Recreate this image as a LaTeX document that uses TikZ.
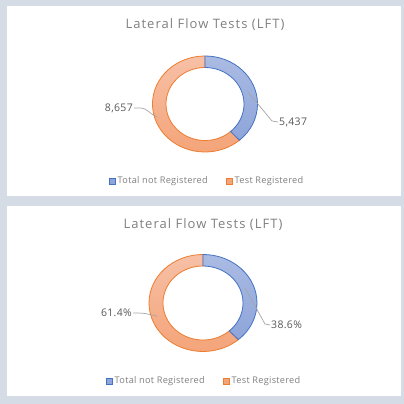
\documentclass[tikz,border=0pt]{standalone}
\usepackage{fontspec}
\setmainfont{Open Sans}
\definecolor{bg}{HTML}{D6DCE6}
\definecolor{bline}{HTML}{4472C4}
\definecolor{btop}{HTML}{AABBE3}
\definecolor{bbot}{HTML}{8EA5DA}
\definecolor{oline}{HTML}{ED7D31}
\definecolor{otop}{HTML}{F7C0A6}
\definecolor{obot}{HTML}{F4A479}
\definecolor{titlec}{HTML}{808080}
\definecolor{labc}{HTML}{595959}
\definecolor{leadc}{HTML}{A6A6A6}
\tikzset{
  panel/.style={fill=white,draw=none},
  ttl/.style={text=titlec,font=\fontsize{13}{15}\selectfont\addfontfeature{LetterSpace=8},inner sep=0pt},
  lab/.style={text=labc,font=\fontsize{10.5}{12}\selectfont\addfontfeature{LetterSpace=3},inner sep=1pt},
  leg/.style={text=titlec,font=\fontsize{9.2}{11}\selectfont\addfontfeature{LetterSpace=3},inner sep=0pt,anchor=west},
  bluesl/.style={draw=bline,line width=0.8pt,top color=btop,bottom color=bbot},
  orsl/.style={draw=oline,line width=0.8pt,top color=otop,bottom color=obot},
  bsq/.style={draw=bline,fill=bbot,line width=0.5pt,minimum size=6pt,inner sep=0pt},
  osq/.style={draw=oline,fill=obot,line width=0.5pt,minimum size=6pt,inner sep=0pt},
  leader/.style={draw=leadc,line width=0.7pt}
}
\begin{document}
\begin{tikzpicture}[x=1pt,y=1pt]
\fill[bg] (0,0) rectangle (404,404);
\useasboundingbox (0,0) rectangle (404,404);
% ---------- top panel ----------
\fill[panel] (7,208) rectangle (401,398);
\node[ttl] (t1) at (205,379) {Lateral Flow Tests (LFT)};
\begin{scope}[shift={(205,300)}]
  \path[orsl] (90:52.5 and 48) arc[start angle=90,end angle=311,x radius=52.5,y radius=48]
     -- (311:39 and 36.5) arc[start angle=311,end angle=90,x radius=39,y radius=36.5] -- cycle;
  \path[bluesl] (90:52.5 and 48) arc[start angle=90,end angle=-49,x radius=52.5,y radius=48]
     -- (-49:39 and 36.5) arc[start angle=-49,end angle=90,x radius=39,y radius=36.5] -- cycle;
  \coordinate (o1) at (-48,-13);
  \coordinate (b1) at (43,12);
\end{scope}
\node[lab,anchor=east] (l1) at (134,296) {8,657};
\node[lab,anchor=west] (r1) at (278,282) {5,437};
\draw[leader] (l1.east) -- ++(6,0) to[out=0,in=160] (o1);
\draw[leader] (b1) -- (272,283) -- (r1.west);
\node[bsq] (bs1) at (112,223) {};
\node[leg] (bt1) at (117.5,223) {Total not Registered};
\node[osq] (os1) at (229,223) {};
\node[leg] (ot1) at (234.5,223) {Test Registered};
% ---------- bottom panel ----------
\fill[panel] (7,8) rectangle (401,198);
\node[ttl] (t2) at (203,179) {Lateral Flow Tests (LFT)};
\begin{scope}[shift={(203,101)}]
  \path[orsl] (90:54 and 48.5) arc[start angle=90,end angle=311,x radius=54,y radius=48.5]
     -- (311:40 and 37) arc[start angle=311,end angle=90,x radius=40,y radius=37] -- cycle;
  \path[bluesl] (90:54 and 48.5) arc[start angle=90,end angle=-49,x radius=54,y radius=48.5]
     -- (-49:40 and 37) arc[start angle=-49,end angle=90,x radius=40,y radius=37] -- cycle;
  \coordinate (o2) at (-46,-13);
  \coordinate (b2) at (42,15);
\end{scope}
\node[lab,anchor=east] (l2) at (133,91) {61.4\%};
\node[lab,anchor=west] (r2) at (270,79) {38.6\%};
\draw[leader] (l2.east) -- ++(5,0) to[out=0,in=170] (o2);
\draw[leader] (b2) -- (265,80) -- (r2.west);
\node[bsq] (bs2) at (109,23) {};
\node[leg] (bt2) at (114.5,23) {Total not Registered};
\node[osq] (os2) at (226,23) {};
\node[leg] (ot2) at (231.5,23) {Test Registered};
\end{tikzpicture}
\end{document}
